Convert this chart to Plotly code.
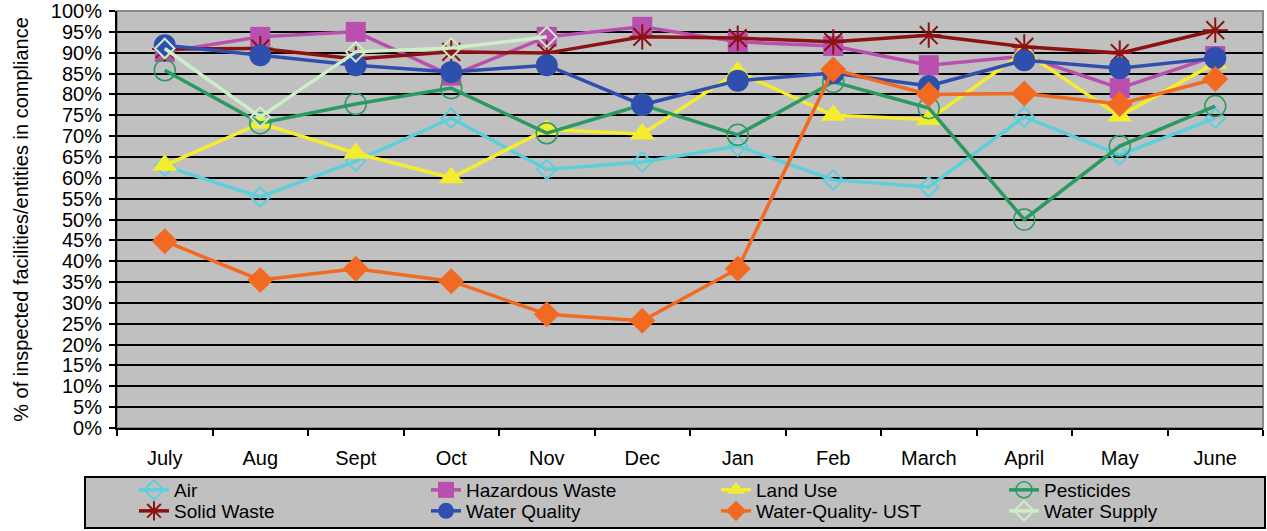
import plotly.graph_objects as go

months = ["July", "Aug", "Sept", "Oct", "Nov", "Dec", "Jan", "Feb", "March", "April", "May", "June"]

air = [62.8, 55.4, 64.0, 74.3, 62.0, 63.8, 67.6, 59.5, 57.8, 74.6, 65.5, 74.3]
hazardous_waste = [90.2, 93.8, 95.0, 84.5, 93.8, 96.2, 92.6, 91.6, 87.0, 89.2, 81.5, 89.2]
land_use = [63.0, 73.1, 65.9, 60.0, 71.6, 70.5, 85.4, 75.0, 74.0, 90.2, 74.8, 87.5]
pesticides = [85.8, 73.1, 77.7, 81.5, 70.7, 77.5, 70.3, 83.0, 76.7, 50.0, 67.6, 77.2]
solid_waste = [90.9, 91.0, 88.5, 90.2, 89.9, 93.8, 93.5, 92.6, 94.2, 91.4, 89.9, 95.4]
water_quality = [91.8, 89.4, 87.0, 85.4, 87.0, 77.5, 83.3, 85.1, 82.0, 88.2, 86.3, 88.7]
water_quality_ust = [44.8, 35.5, 38.2, 35.2, 27.3, 25.7, 38.2, 86.0, 80.0, 80.2, 77.7, 83.7]
water_supply = [91.0, 74.6, 90.2, 91.1, 93.8, None, None, None, None, None, None, None]

series_names = ["Air", "Hazardous Waste", "Land Use", "Pesticides",
                "Solid Waste", "Water Quality", "Water-Quality- UST", "Water Supply"]
series_values = [air, hazardous_waste, land_use, pesticides,
                 solid_waste, water_quality, water_quality_ust, water_supply]
colors = ["#5ccfda", "#b94fae", "#f4ec2e", "#2a9a62", "#8b1212", "#2f4fae", "#f26a21", "#cdeec6"]
symbols = ["diamond-open", "square", "triangle-up", "circle-open",
           "asterisk-open", "circle", "diamond", "diamond-open"]
sizes = [15, 20, 22, 21, 21, 22, 20, 15]
outline = [2, 0, 0, 1.5, 2, 0, 0, 2]

W, H = 1267, 531
ML, MR, MT, MB = 117, 4, 11, 103
PW = W - ML - MR
PH = H - MT - MB
PLOT_LEFT = ML
PLOT_BOTTOM = MT + PH

# legend text start (px) per column, row centres (px)
col_x = [175, 467, 757, 1045]
row_y = [490, 511]

fig = go.Figure()
font = "Arial, Liberation Sans, sans-serif"
legends = {}
for i, (name, vals) in enumerate(zip(series_names, series_values)):
    color = colors[i]
    marker = dict(symbol=symbols[i], size=sizes[i], color=color)
    if outline[i]:
        marker["line"] = dict(color=color, width=outline[i])
    lg = "legend" if i == 0 else f"legend{i + 1}"
    fig.add_trace(go.Scatter(
        x=months, y=vals, name=name, mode="lines+markers",
        line=dict(color=color, width=3.5), marker=marker,
        connectgaps=False, legend=lg,
    ))
    col, row = i % 4, i // 4
    legends[lg] = dict(
        orientation="h", xref="container", yref="container",
        x=(col_x[col] - 41) / W, xanchor="left",
        y=(H - row_y[row]) / H, yanchor="middle",
        bgcolor="rgba(0,0,0,0)", borderwidth=0, itemwidth=30,
        font=dict(family=font, size=19, color="black"),
    )

fig.update_layout(
    width=W, height=H,
    margin=dict(l=ML, r=MR, t=MT, b=MB, autoexpand=False),
    paper_bgcolor="white",
    plot_bgcolor="#c0c0c0",
    font=dict(family=font, size=20, color="black"),
    showlegend=True,
    shapes=[
        dict(type="rect", xref="paper", yref="paper", x0=0, x1=1, y0=0, y1=1,
             line=dict(color="#8a8a8a", width=2), layer="below"),
        dict(type="rect", xref="paper", yref="paper",
             x0=(85 - PLOT_LEFT) / PW, x1=(1265 - PLOT_LEFT) / PW,
             y0=(PLOT_BOTTOM - 528) / PH, y1=(PLOT_BOTTOM - 477) / PH,
             line=dict(color="black", width=2), fillcolor="#c0c0c0", layer="below"),
    ],
    **legends,
)
fig.update_xaxes(
    showline=True, linecolor="black", linewidth=2,
    ticks="outside", ticklen=6, tickwidth=2, tickcolor="black",
    tickson="boundaries", showgrid=False, ticklabelstandoff=11,
    tickfont=dict(size=20), range=[-0.5, 11.5],
)
fig.update_yaxes(
    range=[0, 100], dtick=5, ticksuffix="%",
    showline=True, linecolor="black", linewidth=2,
    ticks="outside", ticklen=6, tickwidth=2, tickcolor="black",
    showgrid=True, gridcolor="black", gridwidth=2, ticklabelstandoff=3,
    ticklabeloverflow="allow",
    tickfont=dict(size=20),
    title=dict(text="% of inspected facilities/entities in compliance", font=dict(size=20), standoff=17),
)

# remove the browser's default 8px body margin so the figure sits at the page origin
fig.write_html("out.html", config={"displayModeBar": False},
               post_script="document.body.style.margin='0';")
